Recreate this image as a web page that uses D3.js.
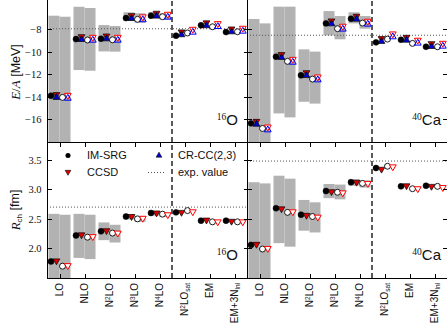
<!DOCTYPE html>
<html><head><meta charset="utf-8">
<script src="https://cdn.jsdelivr.net/npm/d3@7"></script>
<style>
html,body{margin:0;padding:0;background:#fff;}
svg{display:block;}
</style></head>
<body>
<svg id="chart" width="447" height="330"></svg>
<script>
// ---------------- DATA ----------------
const categories = ["LO","NLO","N2LO","N3LO","N4LO","N2LOsat","EM","EM+3Nlnl"];
const tickLabels = ["LO","NLO","N^2LO","N^3LO","N^4LO","N^2LO_sat","EM","EM+3N_lnl"];
const nuclei = ["16O","40Ca"];
const energyTicks = [-16,-14,-12,-10,-8];
const radiusTicks = [2.0,2.5,3.0,3.5];

// E/A [MeV], 16O
const eO_imsrgA = [-13.91,-8.89,-8.86,-7.03,-6.82,-8.59,-7.67,-8.27];
const eO_ccsdA  = [-13.80,-8.67,-8.61,-6.81,-6.60,-8.25,-7.45,-7.99];
const eO_crccA  = [-14.06,-8.93,-8.87,-7.07,-6.86,-8.51,-7.71,-8.25];
const eO_imsrgB = [-14.05,-8.97,-8.95,-7.14,-6.91,-8.35,-7.80,-8.24];
const eO_ccsdB  = [-13.87,-8.73,-8.73,-6.92,-6.69,-8.02,-7.52,-7.93];
const eO_crccB  = [-14.13,-8.99,-8.99,-7.18,-6.95,-8.28,-7.78,-8.19];
const eO_bandA  = [[-6.82,-21],[-6.03,-11.63],[-7.65,-9.98],[-6.52,-7.29],[-6.50,-7.05],null,null,null];
const eO_bandB  = [[-6.91,-21],[-6.14,-11.69],[-7.73,-10.00],[-6.60,-7.44],[-6.60,-7.15],null,null,null];
// E/A [MeV], 40Ca
const eCa_imsrgA = [-16.35,-10.45,-12.10,-7.50,-7.09,-9.18,-8.95,-9.57];
const eCa_ccsdA  = [-16.17,-10.26,-11.86,-7.28,-6.87,-8.84,-8.73,-9.29];
const eCa_crccA  = [-16.43,-10.52,-12.12,-7.54,-7.13,-9.10,-8.99,-9.55];
const eCa_imsrgB = [-16.80,-10.86,-12.43,-7.97,-7.47,-8.89,-9.27,-9.57];
const eCa_ccsdB  = [-16.67,-10.68,-12.24,-7.75,-7.31,-8.43,-8.99,-9.26];
const eCa_crccB  = [-16.93,-10.94,-12.50,-8.01,-7.57,-8.69,-9.25,-9.52];
const eCa_bandA  = [[-7.11,-21],[-6.02,-15.47],[-9.80,-14.44],[-6.41,-8.56],[-6.52,-7.50],null,null,null];
const eCa_bandB  = [[-7.50,-21],[-6.02,-15.82],[-10.00,-14.60],[-6.85,-8.91],[-6.85,-7.97],null,null,null];
// R_ch [fm], 16O
const rO_imsrgA = [1.78,2.22,2.29,2.54,2.60,2.61,2.47,2.47];
const rO_ccsdA  = [1.79,2.23,2.30,2.54,2.60,2.61,2.48,2.46];
const rO_imsrgB = [1.70,2.19,2.26,2.50,2.58,2.64,2.45,2.45];
const rO_ccsdB  = [1.71,2.20,2.26,2.51,2.57,2.62,2.45,2.45];
const rO_bandA  = [[2.585,1.0],[2.585,1.84],[2.44,2.14],[2.58,2.49],[2.62,2.556],null,null,null];
const rO_bandB  = [[2.57,1.0],[2.57,1.82],[2.40,2.10],[2.55,2.45],[2.61,2.53],null,null,null];
// R_ch [fm], 40Ca
const rCa_imsrgA = [2.06,2.68,2.57,2.97,3.12,3.36,3.05,3.06];
const rCa_ccsdA  = [2.07,2.67,2.56,2.96,3.12,3.34,3.06,3.05];
const rCa_imsrgB = [1.99,2.61,2.54,2.95,3.10,3.39,3.01,3.05];
const rCa_ccsdB  = [2.00,2.62,2.53,2.94,3.10,3.38,3.01,3.03];
const rCa_bandA  = [[3.12,1.0],[3.23,2.09],[2.82,2.30],[3.09,2.85],[3.17,3.06],null,null,null];
const rCa_bandB  = [[3.10,1.0],[3.18,2.03],[2.78,2.27],[3.08,2.83],[3.15,3.03],null,null,null];
// experimental values
const expEnergy = [-7.976,-8.551];
const expRadius = [2.699,3.478];

// ---------------- LAYOUT ----------------
const svg = d3.select("#chart");
const panelX = [47, 247], panelW = 200;
const topY0 = 0, midY = 142, botY = 278;
const yE = d3.scaleLinear().domain([-18,-5.43]).range([midY, topY0]);
const yR = d3.scaleLinear().domain([1.5,3.8]).range([botY, midY]);
const xs = panelX.map(x0 => d3.scaleBand().domain(categories).range([x0, x0+panelW]).padding(0));

const GREY = "#b2b2b2";
const serif = "'Liberation Serif','DejaVu Serif',serif";
const sans = "'Liberation Sans',Arial,sans-serif";

const defs = svg.append("defs");
const panels = [];
[0,1].forEach(n => {
  [["E", yE, midY, topY0], ["R", yR, botY, midY]].forEach(([q, ys, yb, yt]) => {
    const id = `clip-${q}-${n}`;
    defs.append("clipPath").attr("id", id).append("rect")
      .attr("x", panelX[n]).attr("y", yt).attr("width", panelW).attr("height", yb - yt);
    panels.push({n, q, ys, id});
  });
});

const sets = {
  "E0": {imA: eO_imsrgA, ccA: eO_ccsdA, crA: eO_crccA, imB: eO_imsrgB, ccB: eO_ccsdB, crB: eO_crccB, bA: eO_bandA, bB: eO_bandB, exp: expEnergy[0]},
  "E1": {imA: eCa_imsrgA, ccA: eCa_ccsdA, crA: eCa_crccA, imB: eCa_imsrgB, ccB: eCa_ccsdB, crB: eCa_crccB, bA: eCa_bandA, bB: eCa_bandB, exp: expEnergy[1]},
  "R0": {imA: rO_imsrgA, ccA: rO_ccsdA, imB: rO_imsrgB, ccB: rO_ccsdB, bA: rO_bandA, bB: rO_bandB, exp: expRadius[0]},
  "R1": {imA: rCa_imsrgA, ccA: rCa_ccsdA, imB: rCa_imsrgB, ccB: rCa_ccsdB, bA: rCa_bandA, bB: rCa_bandB, exp: expRadius[1]}
};

const triUp = d3.symbol().type(d3.symbolTriangle).size(20)();
const circ = d3.symbol().type(d3.symbolCircle).size(28)();

panels.forEach(p => {
  const d = sets[p.q + p.n];
  const x = xs[p.n];
  const bw = x.bandwidth();
  const g = svg.append("g").attr("clip-path", `url(#${p.id})`);
  const cx = c => x(c) + bw/2;
  // bands
  [["bA", -11, 0], ["bB", 0, 11]].forEach(([k, a, b]) => {
    g.selectAll(null).data(categories.map((c,i) => ({c, v: d[k][i]})).filter(e => e.v))
      .join("rect")
      .attr("x", e => cx(e.c) + a).attr("width", b - a)
      .attr("y", e => p.ys(e.v[0])).attr("height", e => p.ys(e.v[1]) - p.ys(e.v[0]))
      .attr("fill", GREY);
  });
  // exp line
  g.append("line").attr("x1", panelX[p.n]).attr("x2", panelX[p.n] + panelW)
    .attr("y1", p.ys(d.exp)).attr("y2", p.ys(d.exp))
    .attr("stroke", "#555").attr("stroke-width", 1).attr("stroke-dasharray", "1,2");
  // dashed separator
  const sx = x("N2LOsat");
  g.append("line").attr("x1", sx).attr("x2", sx)
    .attr("y1", p.ys.range()[0]).attr("y2", p.ys.range()[1])
    .attr("stroke", "#000").attr("stroke-width", 1.3).attr("stroke-dasharray", "5,3");

  const pts = (arr) => categories.map((c,i) => ({c, v: arr[i]}));
  const drawSym = (arr, off, path, rot, fill, stroke, sw) => {
    g.selectAll(null).data(pts(arr)).join("path")
      .attr("d", path)
      .attr("transform", e => `translate(${cx(e.c)+off},${p.ys(e.v)})` + (rot ? " rotate(180)" : ""))
      .attr("fill", fill).attr("stroke", stroke).attr("stroke-width", sw);
  };
  // set A (filled)
  drawSym(d.imA, -8.5, circ, false, "#000", "#000", 0.5);
  drawSym(d.ccA, -3, triUp, true, "#e00000", "#000", 0.7);
  if (d.crA) drawSym(d.crA, -3, triUp, false, "#0000d0", "#000", 0.7);
  // set B (open)
  drawSym(d.imB, 3, circ, false, "#fff", "#000", 0.9);
  drawSym(d.ccB, 8.3, triUp, true, "#fff", "#ff0000", 1);
  if (d.crB) drawSym(d.crB, 8.3, triUp, false, "none", "#0000ff", 1);
});

// ---------------- SPINES & TICKS ----------------
const ax = svg.append("g").attr("stroke", "#000").attr("stroke-width", 1).attr("shape-rendering", "crispEdges");
const L = 47.5, M = 247.5, R = 447;
ax.append("line").attr("x1", L).attr("x2", L).attr("y1", topY0).attr("y2", botY + 0.5);
ax.append("line").attr("x1", M).attr("x2", M).attr("y1", topY0).attr("y2", botY + 0.5);
ax.append("line").attr("x1", L).attr("x2", R).attr("y1", midY + 0.5).attr("y2", midY + 0.5);
ax.append("line").attr("x1", L).attr("x2", R).attr("y1", botY + 0.5).attr("y2", botY + 0.5);

const tl = 4;
[[yE, energyTicks], [yR, radiusTicks]].forEach(([ys, ticks]) => {
  ticks.forEach(t => {
    const y = Math.round(ys(t)) + 0.5;
    ax.append("line").attr("x1", L).attr("x2", L + tl).attr("y1", y).attr("y2", y);
    ax.append("line").attr("x1", M - tl).attr("x2", M + tl).attr("y1", y).attr("y2", y);
    ax.append("line").attr("x1", R - tl).attr("x2", R).attr("y1", y).attr("y2", y);
  });
});
// y tick labels via d3 axis
const yAxisE = d3.axisLeft(yE).tickValues(energyTicks).tickSize(0).tickPadding(6)
  .tickFormat(d => d3.format("d")(d).replace("-", "\u2212"));
const yAxisR = d3.axisLeft(yR).tickValues(radiusTicks).tickSize(0).tickPadding(6)
  .tickFormat(d3.format(".1f"));
[yAxisE, yAxisR].forEach(a => {
  const gg = svg.append("g").attr("transform", `translate(${L},0)`).call(a);
  gg.select(".domain").remove();
  gg.selectAll("text").attr("font-family", serif).attr("font-size", 10.5).attr("fill", "#111");
});

// x ticks
xs.forEach(x => {
  const bw = x.bandwidth();
  categories.forEach(c => {
    const xx = Math.round(x(c) + bw/2) + 0.5;
    ax.append("line").attr("x1", xx).attr("x2", xx).attr("y1", botY).attr("y2", botY - tl);
    ax.append("line").attr("x1", xx).attr("x2", xx).attr("y1", midY + 1).attr("y2", midY + 1 + tl);
  });
});

// x tick labels (rotated)
xs.forEach(x => {
  const bw = x.bandwidth();
  categories.forEach((c, i) => {
    const t = svg.append("text")
      .attr("transform", `translate(${x(c) + bw/2},283) rotate(-90)`)
      .attr("text-anchor", "end").attr("dy", "0.36em")
      .attr("font-family", sans).attr("font-size", 10).attr("fill", "#111");
    const lab = tickLabels[i];
    const m = lab.match(/^([^\^_]*)(\^(\d))?([^\^_]*)(_(\w+))?$/);
    t.append("tspan").text(m[1]);
    if (m[3]) {
      t.append("tspan").attr("font-size", 6.5).attr("dy", "-0.55em").text(m[3]);
      t.append("tspan").attr("dy", "0.36em").text(m[4]);
    } else if (m[4]) {
      t.append("tspan").text(m[4]);
    }
    if (m[6]) t.append("tspan").attr("font-size", 6.5).attr("dy", "0.3em").text(m[6]);
  });
});

// axis titles
const ttE = svg.append("text").attr("transform", "translate(15,72) rotate(-90)")
  .attr("text-anchor", "middle").attr("dy", "0.35em").attr("font-size", 13).attr("fill", "#111");
ttE.append("tspan").attr("font-family", serif).attr("font-style", "italic").text("E");
ttE.append("tspan").attr("font-family", serif).text("/");
ttE.append("tspan").attr("font-family", serif).attr("font-style", "italic").text("A");
ttE.append("tspan").attr("font-family", sans).attr("font-size", 12.5).text(" [MeV]");

const ttR = svg.append("text").attr("transform", "translate(15,210) rotate(-90)")
  .attr("text-anchor", "middle").attr("dy", "0.35em").attr("font-size", 13).attr("fill", "#111");
ttR.append("tspan").attr("font-family", serif).attr("font-style", "italic").text("R");
ttR.append("tspan").attr("font-family", sans).attr("font-size", 8).attr("dy", "0.3em").text("ch");
ttR.append("tspan").attr("font-family", sans).attr("font-size", 12.5).attr("dy", "-0.2em").text(" [fm]");

// nucleus labels
const nucLab = (xEnd, y, mass, sym) => {
  const t = svg.append("text").attr("x", xEnd).attr("y", y).attr("text-anchor", "end").attr("fill", "#111");
  t.append("tspan").attr("font-family", serif).attr("font-size", 9.5).attr("dy", "-0.55em").text(mass);
  t.append("tspan").attr("font-family", sans).attr("font-size", 15).attr("dy", "0.37em").text(sym);
};
[125, 260].forEach(y => {
  nucLab(238, y, nuclei[0].slice(0,2), nuclei[0].slice(2));
  nucLab(441, y, nuclei[1].slice(0,2), nuclei[1].slice(2));
});

// legend
const lg = svg.append("g").attr("font-family", sans).attr("font-size", 11).attr("fill", "#111");
const smallTri = d3.symbol().type(d3.symbolTriangle).size(14)();
const smallCirc = d3.symbol().type(d3.symbolCircle).size(20)();
lg.append("path").attr("d", smallCirc).attr("transform", "translate(68,155.5)").attr("fill", "#000");
lg.append("text").attr("x", 87).attr("y", 155.5).attr("dy", "0.36em").text("IM-SRG");
lg.append("path").attr("d", smallTri).attr("transform", "translate(159,155.5)").attr("fill", "#0000d0").attr("stroke", "#000").attr("stroke-width", 0.6);
lg.append("text").attr("x", 178).attr("y", 155.5).attr("dy", "0.36em").text("CR-CC(2,3)");
lg.append("path").attr("d", smallTri).attr("transform", "translate(68,172) rotate(180)").attr("fill", "#e00000").attr("stroke", "#000").attr("stroke-width", 0.6);
lg.append("text").attr("x", 87).attr("y", 172).attr("dy", "0.36em").text("CCSD");
lg.append("line").attr("x1", 148).attr("x2", 164).attr("y1", 172.5).attr("y2", 172.5)
  .attr("stroke", "#555").attr("stroke-dasharray", "1,2");
lg.append("text").attr("x", 178).attr("y", 172).attr("dy", "0.36em").text("exp. value");
</script>
</body></html>
